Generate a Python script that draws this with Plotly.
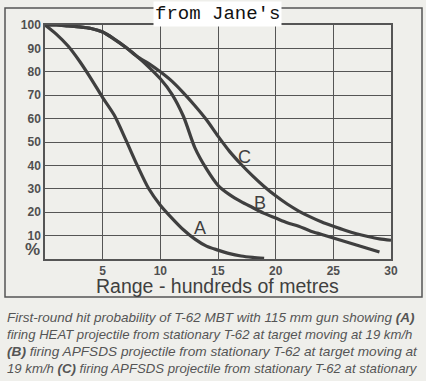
import plotly.graph_objects as go

# Range in hundreds of metres
a_x = [0, 1, 2, 3, 4, 5, 6, 7, 8, 9, 10, 11, 12, 13, 14, 15, 16, 17, 18, 19]
a_y = [100, 96, 91, 84.5, 77, 69, 61.5, 51, 40, 30, 23, 17.5, 12.5, 8.5, 5.5, 3.8, 2.3, 1.3, 0.7, 0.3]

b_x = [0, 1, 2, 3, 4, 5, 6, 7, 8, 9, 10, 11, 12, 13, 14, 15, 16, 17, 18, 19, 20,
       21, 22, 23, 24, 25, 26, 27, 28, 29]
b_y = [100, 100, 99.6, 99.2, 98.5, 97, 94, 90.5, 86.5, 82, 77, 70.5, 61, 47.5, 38.5, 31.5,
       27.5, 24.5, 22, 19.5, 17.5, 15.5, 14, 12, 10.5, 9, 7.5, 6, 4.5, 3]

c_x = [0, 1, 2, 3, 4, 5, 6, 7, 8, 9, 10, 11, 12, 13, 14, 15, 16, 17, 18, 19, 20,
       21, 22, 23, 24, 25, 26, 27, 28, 29, 30]
c_y = [100, 100, 99.6, 99.2, 98.5, 97, 94, 90.5, 86.5, 83.5, 80, 76, 71, 65.5, 59.5, 52.5, 46,
       40.5, 35.5, 31, 27, 23.5, 20.5, 18, 15.8, 14, 12.3, 10.8, 9.6, 8.6, 8]

x_ticks = [5, 10, 15, 20, 25, 30]
y_ticks = [10, 20, 30, 40, 50, 60, 70, 80, 90, 100]

curve_labels = [("A", 13.4, 13.2), ("B", 18.6, 23.9), ("C", 17.3, 43.7)]

caption_lines = [
    "First-round hit probability of T-62 MBT with 115 mm gun showing <b>(A)</b>",
    "firing HEAT projectile from stationary T-62 at target moving at 19 km/h",
    "<b>(B)</b> firing APFSDS projectile from stationary T-62 at target moving at",
    "19 km/h <b>(C)</b> firing APFSDS projectile from stationary T-62 at stationary",
    "target",
]
caption_sizes = [13.5, 13.15, 13.65, 13.2, 13.3]

ink = "#3f3f3f"
grid = "#555555"
paper = "#efefeb"

fig = go.Figure()
for xs, ys in [(a_x, a_y), (b_x, b_y), (c_x, c_y)]:
    fig.add_trace(go.Scatter(x=xs, y=ys, mode="lines",
                             line=dict(color=ink, width=3.2, shape="spline", smoothing=0.8),
                             hoverinfo="skip", showlegend=False))

for t, x, y in curve_labels:
    fig.add_annotation(x=x, y=y, text=t, showarrow=False,
                       font=dict(family="Liberation Sans", size=18, color=ink))

fig.update_xaxes(range=[0, 30], tickvals=x_ticks, ticktext=[str(v) for v in x_ticks],
                 showgrid=True, gridcolor=grid, gridwidth=1.3,
                 showline=True, linecolor=grid, linewidth=1.5, mirror=True,
                 zeroline=False, ticks="", ticklen=0, automargin=False,
                 tickfont=dict(family="Liberation Sans", size=12, color="#505050", weight="bold"))
fig.update_yaxes(range=[0, 100], tickvals=y_ticks, ticktext=[str(v) for v in y_ticks],
                 showgrid=True, gridcolor=grid, gridwidth=1.3,
                 showline=True, linecolor=grid, linewidth=1.5, mirror=True,
                 zeroline=False, ticks="", ticklen=0, automargin=False,
                 tickfont=dict(family="Liberation Sans", size=12, color="#505050", weight="bold"))

# axis title
fig.add_annotation(xref="paper", yref="paper", x=(217 - 45) / 346, y=(259 - 286) / 234,
                   xanchor="center", yanchor="middle", text="Range - hundreds of metres",
                   showarrow=False, font=dict(family="Liberation Sans", size=19.5, color=ink))

fig.add_annotation(xref="paper", yref="paper", x=-0.008, y=-0.01, xanchor="right", yanchor="bottom",
                   text="<b>%</b>", showarrow=False,
                   font=dict(family="Liberation Sans", size=17, color="#505050"))

# outer frame
fig.add_shape(type="rect", xref="paper", yref="paper",
              x0=(5 - 45) / 346, x1=(422 - 45) / 346, y0=(259 - 297) / 234, y1=(259 - 8) / 234,
              line=dict(color=grid, width=1.5), fillcolor="rgba(0,0,0,0)", layer="below")

fig.add_annotation(xref="paper", yref="paper", x=(217 - 45) / 346, y=(259 - 14) / 234,
                   xanchor="center", yanchor="middle",
                   text="from Jane's", showarrow=False, bgcolor="#ffffff",
                   font=dict(family="Liberation Mono", size=19, color="#111111"))

for i, line in enumerate(caption_lines):
    fig.add_annotation(xref="paper", yref="paper", x=(5 - 45) / 346, y=(259 - (317 + 17.3 * i)) / 234,
                       xanchor="left", yanchor="middle", text="<i>" + line + "</i>",
                       showarrow=False,
                       font=dict(family="Liberation Sans", size=caption_sizes[i], color="#555555"))

fig.update_layout(width=426, height=381, margin=dict(l=45, r=35, t=25, b=122, autoexpand=False),
                  paper_bgcolor=paper, plot_bgcolor=paper)

fig.write_html("out.html", config={"displayModeBar": False},
               post_script="document.body.style.margin='0';document.body.style.overflow='hidden';")
